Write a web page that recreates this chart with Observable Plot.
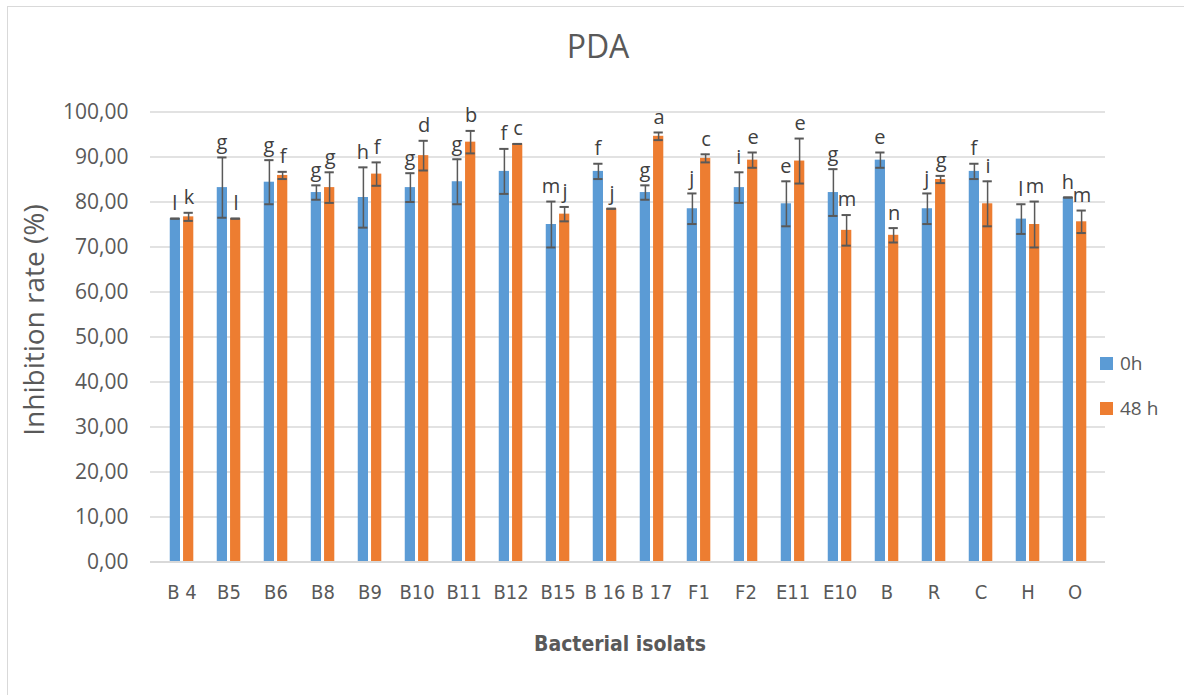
<!DOCTYPE html>
<html>
<head>
<meta charset="utf-8">
<script src="https://cdn.jsdelivr.net/npm/d3@7"></script>
<script src="https://cdn.jsdelivr.net/npm/@observablehq/plot@0.6"></script>
<style>
  html, body { margin: 0; padding: 0; background: #fff; overflow: hidden; }
  #wrap { position: relative; width: 1184px; height: 695px; overflow: hidden; font-family: "Open Sans", sans-serif; color: #595959; }
  #frame { position: absolute; left: 7px; top: 6px; width: 1400px; height: 900px; border: 1.5px solid #d9d9d9; box-sizing: border-box; }
  #chart { position: absolute; left: 0; top: 0; }
  #chart g[aria-label="x-axis tick label"] text { font-stretch: condensed; }
  .title { position: absolute; left: 498px; width: 200px; top: 26px; text-align: center; font-size: 32px; line-height: 40px; }
  .ytitle { position: absolute; left: 33px; top: 320px; transform: translate(-50%, -50%) rotate(-90deg); white-space: nowrap; font-size: 28px; line-height: 32px; }
  .xtitle { position: absolute; left: 520px; width: 200px; top: 631px; text-align: center; font-family: "Liberation Sans Narrow", "DejaVu Sans Condensed", sans-serif; font-stretch: condensed; font-weight: bold; font-size: 21px; line-height: 26px; }
  .leg { position: absolute; left: 1100px; font-size: 19px; line-height: 24px; white-space: nowrap; }
  .leg span.sw { position: absolute; left: 0; top: 5px; width: 13px; height: 13px; }
  .leg span.lb { position: absolute; left: 20px; top: -1px; }
</style>
</head>
<body>
<div id="wrap">
  <div id="frame"></div>
  <div id="chart"></div>
  <div class="title">PDA</div>
  <div class="ytitle">Inhibition rate (%)</div>
  <div class="xtitle">Bacterial isolats</div>
  <div class="leg" style="top:352px"><span class="sw" style="background:#5B9BD5"></span><span class="lb">0h</span></div>
  <div class="leg" style="top:397px"><span class="sw" style="background:#ED7D31"></span><span class="lb">48 h</span></div>
</div>
<script>
const categories = ["B 4","B5","B6","B8","B9","B10","B11","B12","B15","B 16","B 17","F1","F2","E11","E10","B","R","C","H","O"];
const series = ["0h", "48 h"];
const values0h  = [76.3,83.2,84.4,82.1,81.0,83.2,84.5,86.8,75.0,86.8,82.1,78.5,83.2,79.6,82.1,89.3,78.5,86.8,76.2,81.0];
const errors0h  = [0,6.7,4.9,1.6,6.7,3.2,5.0,5.0,5.1,1.7,1.6,3.4,3.4,5.0,5.2,1.7,3.4,1.7,3.3,0];
const letters0h = ["l","g","g","g","h","g","g","f","m","f","g","j","i","e","g","e","j","f","l","h"];
const values48h  = [76.7,76.3,85.9,83.2,86.2,90.3,93.3,92.9,77.3,78.5,94.6,89.7,89.3,89.1,73.7,72.6,85.0,79.6,75.0,75.6];
const errors48h  = [0.9,0,0.8,3.4,2.6,3.3,2.5,0,1.6,0,0.85,0.9,1.7,5.0,3.4,1.6,0.8,5.0,5.1,2.5];
const letters48h = ["k","l","f","g","f","d","b","c","j","j","a","c","e","e","m","n","g","i","m","m"];
const yTicks = [0,10,20,30,40,50,60,70,80,90,100];

const colors = {"0h": "#5B9BD5", "48 h": "#ED7D31"};
const rows = (vals, errs, lets, s) => categories.map((c, i) => ({cat: c, series: s, v: vals[i], e: errs[i], lo: vals[i] - errs[i], hi: vals[i] + errs[i], letter: lets[i]}));
const d0 = rows(values0h, errors0h, letters0h, series[0]);
const d48 = rows(values48h, errors48h, letters48h, series[1]);

// band of 47.75px: blue bar occupies 11.75..22.75, orange 25.05..36.05
const L0 = 11.75, R0 = 25.0, L1 = 25.05, R1 = 11.7;
const off0 = -6.6, off1 = 6.6;
const fmt = d => d.toFixed(2).replace(".", ",");

const plot = Plot.plot({
  width: 1184,
  height: 695,
  marginLeft: 150,
  marginRight: 79,
  marginTop: 111.5,
  marginBottom: 133.5,
  style: {fontFamily: "Open Sans, sans-serif", background: "transparent", overflow: "visible"},
  x: {type: "band", domain: categories, padding: 0, axis: null},
  y: {domain: [0, 100], axis: null},
  marks: [
    Plot.ruleY(yTicks, {stroke: "#d9d9d9", strokeWidth: 1.5}),
    Plot.axisY(yTicks, {tickSize: 0, tickPadding: 22, tickFormat: fmt, fontSize: 21, fill: "#595959", label: null}),
    Plot.axisX({tickSize: 0, tickPadding: 23, fontSize: 20, fill: "#595959", label: null,
      fontFamily: "Liberation Sans Narrow, DejaVu Sans Condensed, DejaVu Sans, sans-serif"}),
    Plot.barY(d0, {x: "cat", y: "v", fill: colors["0h"], insetLeft: L0, insetRight: R0}),
    Plot.barY(d48, {x: "cat", y: "v", fill: colors["48 h"], insetLeft: L1, insetRight: R1}),
    Plot.ruleX(d0, {x: "cat", y1: "lo", y2: "hi", dx: off0, stroke: "#595959", strokeWidth: 1.5}),
    Plot.ruleX(d48, {x: "cat", y1: "lo", y2: "hi", dx: off1, stroke: "#595959", strokeWidth: 1.5}),
    Plot.tickY(d0, {x: "cat", y: "lo", stroke: "#595959", strokeWidth: 2, insetLeft: L0 + 0.5, insetRight: R0 + 0.5}),
    Plot.tickY(d0, {x: "cat", y: "hi", stroke: "#595959", strokeWidth: 2, insetLeft: L0 + 0.5, insetRight: R0 + 0.5}),
    Plot.tickY(d48, {x: "cat", y: "lo", stroke: "#595959", strokeWidth: 2, insetLeft: L1 + 0.5, insetRight: R1 + 0.5}),
    Plot.tickY(d48, {x: "cat", y: "hi", stroke: "#595959", strokeWidth: 2, insetLeft: L1 + 0.5, insetRight: R1 + 0.5}),
    Plot.ruleY([0], {stroke: "#d9d9d9", strokeWidth: 2}),
    Plot.text(d0, {x: "cat", y: "hi", text: "letter", dx: off0 - 0.5, dy: -15, fontSize: 20, fill: "#404040"}),
    Plot.text(d48, {x: "cat", y: "hi", text: "letter", dx: off1 + 0.5, dy: -15, fontSize: 20, fill: "#404040"})
  ]
});
document.getElementById("chart").appendChild(plot);
</script>
</body>
</html>
